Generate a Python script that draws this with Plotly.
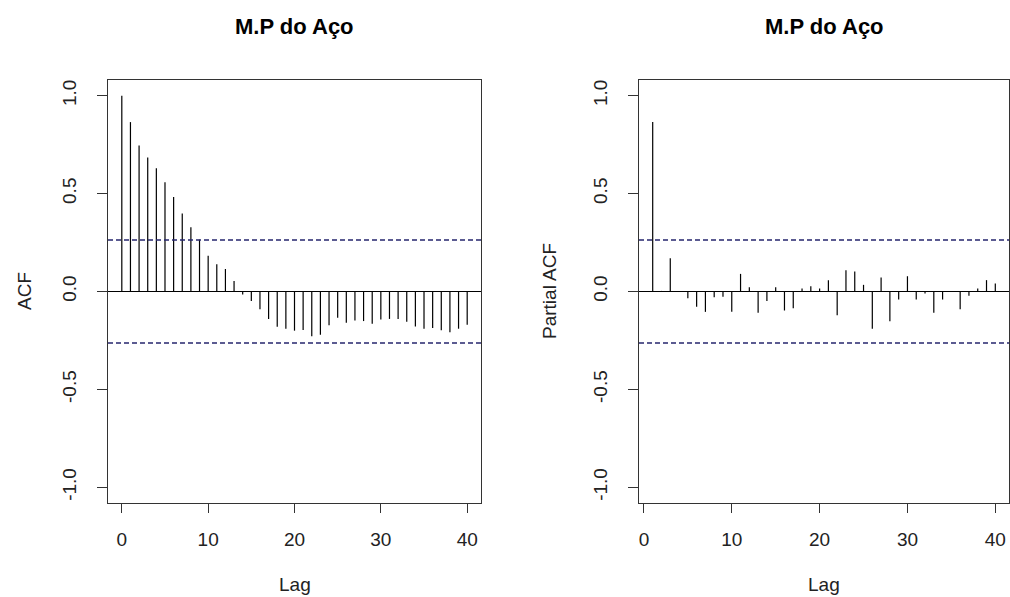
import plotly.graph_objects as go

# ---- data ----
acf_lags = list(range(0, 41))
acf_vals = [1.0, 0.865, 0.746, 0.684, 0.630, 0.558, 0.483, 0.398, 0.328, 0.265,
            0.183, 0.139, 0.115, 0.054, -0.015, -0.048, -0.090, -0.141, -0.180, -0.190,
            -0.200, -0.197, -0.228, -0.221, -0.172, -0.134, -0.160, -0.148, -0.151, -0.165,
            -0.143, -0.140, -0.140, -0.154, -0.179, -0.190, -0.186, -0.198, -0.208, -0.190,
            -0.170]
pacf_lags = list(range(1, 41))
pacf_vals = [0.865, 0.003, 0.170, -0.003, -0.035, -0.078, -0.104, -0.029, -0.027, -0.104,
             0.090, 0.022, -0.109, -0.049, 0.022, -0.097, -0.085, 0.015, 0.027, 0.015,
             0.058, -0.121, 0.109, 0.102, 0.034, -0.190, 0.072, -0.152, -0.041, 0.078,
             -0.041, -0.010, -0.109, -0.041, 0.002, -0.090, -0.022, 0.015, 0.058, 0.041]
conf_limit = 0.263
x_ticks = [0, 10, 20, 30, 40]
y_ticks = [-1.0, -0.5, 0.0, 0.5, 1.0]
y_ticktext = ["-1.0", "-0.5", "0.0", "0.5", "1.0"]
title_text = "M.P do Aço"
ylabels = ["ACF", "Partial ACF"]
xlabel = "Lag"

W, H = 1010, 597
FONT = "Liberation Sans, Arial, sans-serif"

def segs(lags, vals):
    xs, ys = [], []
    for l, v in zip(lags, vals):
        xs += [l, l, None]
        ys += [0, v, None]
    return xs, ys

fig = go.Figure()
x1, y1 = segs(acf_lags, acf_vals)
x2, y2 = segs(pacf_lags, pacf_vals)
fig.add_trace(go.Scatter(x=x1, y=y1, mode="lines", line=dict(color="black", width=1.2),
                         xaxis="x", yaxis="y", showlegend=False, hoverinfo="skip"))
fig.add_trace(go.Scatter(x=x2, y=y2, mode="lines", line=dict(color="black", width=1.2),
                         xaxis="x2", yaxis="y2", showlegend=False, hoverinfo="skip"))

top_px, bot_px = 80, 503
ydom = [1 - bot_px / H, 1 - top_px / H]
boxes = [(108, 481), (639, 1009)]

common_x = dict(tickvals=x_ticks, ticks="outside", ticklen=9, tickcolor="#333",
                showline=True, linecolor="#333", linewidth=1, mirror=True,
                showgrid=False, zeroline=False,
                tickfont=dict(family=FONT, size=19, color="#222"),
                ticklabelstandoff=10)
common_y = dict(range=[-1.08, 1.08], tickvals=y_ticks, ticktext=y_ticktext,
                tickangle=-90, ticks="outside", ticklen=10, tickcolor="#333",
                showline=True, linecolor="#333", linewidth=1, mirror=True,
                showgrid=False, zeroline=False,
                tickfont=dict(family=FONT, size=19, color="#222"),
                ticklabelstandoff=13)

fig.update_layout(
    width=W, height=H, margin=dict(l=0, r=0, t=0, b=0),
    paper_bgcolor="white", plot_bgcolor="white",
    xaxis=dict(domain=[boxes[0][0] / W, boxes[0][1] / W], range=[-1.6, 41.6], anchor="y", **common_x),
    yaxis=dict(domain=ydom, anchor="x", **common_y),
    xaxis2=dict(domain=[boxes[1][0] / W, boxes[1][1] / W], range=[-0.56, 41.56], anchor="y2", **common_x),
    yaxis2=dict(domain=ydom, anchor="x2", **common_y),
)

shapes = []
for xr, yr in [("x domain", "y"), ("x2 domain", "y2")]:
    shapes.append(dict(type="line", xref=xr, yref=yr, x0=0, x1=1, y0=0, y1=0,
                       line=dict(color="black", width=1.2)))
    for c in (conf_limit, -conf_limit):
        shapes.append(dict(type="line", xref=xr, yref=yr, x0=0, x1=1, y0=c, y1=c,
                           line=dict(color="#26266e", width=1.3, dash="5px,3px")))
fig.update_layout(shapes=shapes)

ann = []
for i, (l, r) in enumerate(boxes):
    cx = (l + r) / 2 / W
    ann.append(dict(text="<b>%s</b>" % title_text, x=cx, y=1 - 27 / H, xref="paper", yref="paper",
                    showarrow=False, xanchor="center", yanchor="middle",
                    font=dict(family=FONT, size=22, color="black")))
    ann.append(dict(text=xlabel, x=cx, y=1 - 584 / H, xref="paper", yref="paper",
                    showarrow=False, xanchor="center", yanchor="middle",
                    font=dict(family=FONT, size=19, color="#222")))
ann.append(dict(text=ylabels[0], x=24 / W, y=1 - 291 / H, xref="paper", yref="paper",
                showarrow=False, xanchor="center", yanchor="middle", textangle=-90,
                font=dict(family=FONT, size=19, color="#222")))
ann.append(dict(text=ylabels[1], x=549 / W, y=1 - 291 / H, xref="paper", yref="paper",
                showarrow=False, xanchor="center", yanchor="middle", textangle=-90,
                font=dict(family=FONT, size=19, color="#222")))
fig.update_layout(annotations=ann)

fig.write_html("out.html")
